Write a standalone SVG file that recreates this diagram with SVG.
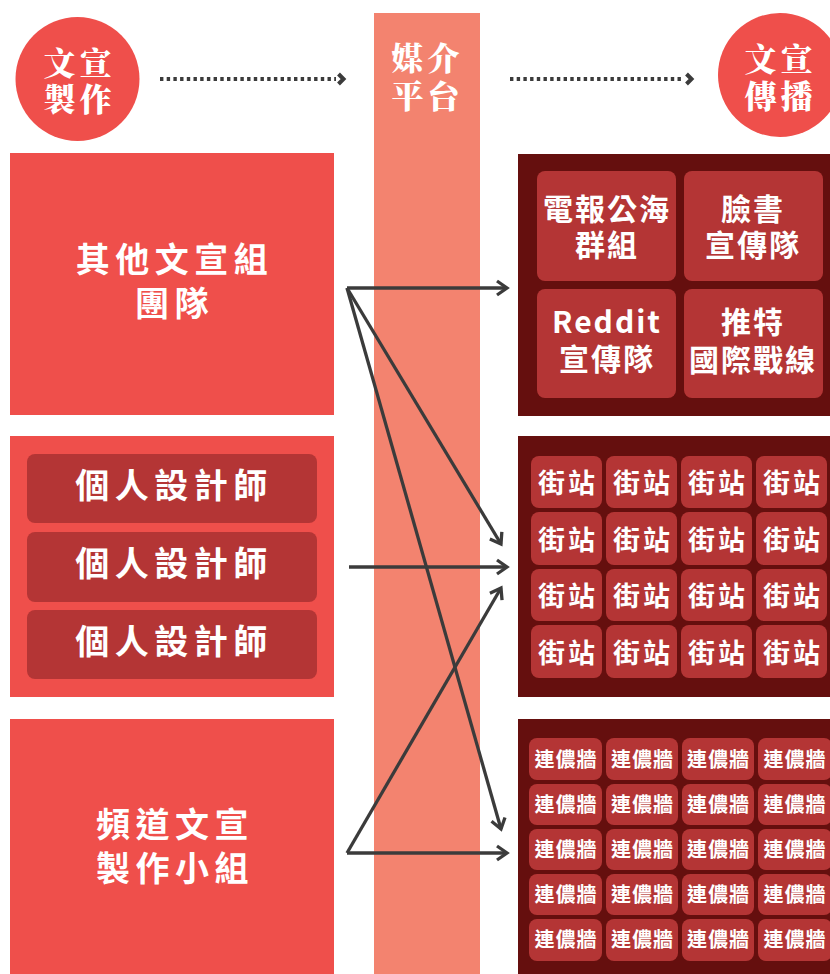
<svg xmlns="http://www.w3.org/2000/svg" width="830" height="974" viewBox="0 0 830 974">
<style>
.t{font-family:"Noto Sans CJK TC","Noto Sans CJK SC",sans-serif;font-weight:700;fill:#fff;text-anchor:middle}
.h{font-family:"Noto Serif CJK TC","Noto Sans CJK TC",serif;font-weight:900;fill:#fff;text-anchor:middle;font-size:32px;letter-spacing:4px}
.big{font-size:34px;letter-spacing:5.5px}
.mid{font-size:30px;letter-spacing:2px}
.st{font-size:27px;letter-spacing:3px}
.lw{font-size:20px;letter-spacing:1px}
.red{fill:#ef4f4b}
.dark{fill:#650f0e}
.cell{fill:#b43535}
.conn{stroke:#3b3b3b;stroke-width:3.3;fill:none}
.dot{stroke:#3b3b3b;stroke-width:4;fill:none;stroke-dasharray:3.4 3.3}
.chev{stroke:#3b3b3b;stroke-width:4;fill:none}
</style>
<defs>
<marker id="ah" markerUnits="userSpaceOnUse" markerWidth="24" markerHeight="24" refX="13" refY="12" orient="auto">
<path d="M3,5 L13,12 L3,19" fill="none" stroke="#3b3b3b" stroke-width="3.3"/>
</marker>
</defs>

<rect x="374" y="13" width="106" height="961" fill="#f3836f"/>

<g id="hdr-left">
<circle cx="77.5" cy="79" r="62" class="red"/>
<text class="h" x="79.5" y="75">文宣</text>
<text class="h" x="79.5" y="111">製作</text>
</g>
<g id="hdr-mid">
<text class="h" x="427.5" y="70">媒介</text>
<text class="h" x="427.5" y="108">平台</text>
</g>
<g id="hdr-right">
<circle cx="780" cy="75" r="62" class="red"/>
<text class="h" x="780.5" y="71">文宣</text>
<text class="h" x="780.5" y="108">傳播</text>
</g>
<g id="hdr-arrows">
<line class="dot" x1="160" y1="79" x2="336" y2="79"/>
<polyline class="chev" points="338.5,74 343.5,79 338.5,84"/>
<line class="dot" x1="510" y1="79" x2="684" y2="79"/>
<polyline class="chev" points="686.5,74 691.5,79 686.5,84"/>
</g>

<g id="src-others">
<rect x="10" y="153" width="324" height="262" class="red"/>
<text class="t big" x="174.5" y="272">其他文宣組</text>
<text class="t big" x="174.5" y="316">團隊</text>
</g>
<g id="src-designers">
<rect x="10" y="436" width="324" height="261" class="red"/>
<rect x="27" y="454" width="290" height="69" rx="8" class="cell"/>
<rect x="27" y="532" width="290" height="70" rx="8" class="cell"/>
<rect x="27" y="610" width="290" height="69" rx="8" class="cell"/>
<text class="t big" x="174" y="498">個人設計師</text>
<text class="t big" x="174" y="576">個人設計師</text>
<text class="t big" x="174" y="654">個人設計師</text>
</g>
<g id="src-channel">
<rect x="10" y="719" width="324" height="255" class="red"/>
<text class="t big" x="175" y="837">頻道文宣</text>
<text class="t big" x="175" y="881">製作小組</text>
</g>

<g id="dst-groups">
<rect x="518" y="154" width="312" height="262" class="dark"/>
<rect x="537" y="171" width="139" height="110" rx="8" class="cell"/>
<rect x="684" y="171" width="139" height="110" rx="8" class="cell"/>
<rect x="537" y="289" width="139" height="109" rx="8" class="cell"/>
<rect x="684" y="289" width="139" height="109" rx="8" class="cell"/>
<text class="t mid" x="607" y="220">電報公海</text>
<text class="t mid" x="607" y="256">群組</text>
<text class="t mid" x="753" y="220">臉書</text>
<text class="t mid" x="753" y="256">宣傳隊</text>
<text class="t mid" x="607" y="333">Reddit</text>
<text class="t mid" x="607" y="370">宣傳隊</text>
<text class="t mid" x="753" y="333">推特</text>
<text class="t mid" x="753" y="371">國際戰線</text>
</g>

<g id="dst-stations">
<rect x="518" y="436" width="312" height="261" class="dark"/>
<g class="cell">
<rect x="531" y="456" width="71" height="52" rx="8"/><rect x="606" y="456" width="71" height="52" rx="8"/><rect x="681" y="456" width="71" height="52" rx="8"/><rect x="756" y="456" width="71" height="52" rx="8"/>
<rect x="531" y="512" width="71" height="53" rx="8"/><rect x="606" y="512" width="71" height="53" rx="8"/><rect x="681" y="512" width="71" height="53" rx="8"/><rect x="756" y="512" width="71" height="53" rx="8"/>
<rect x="531" y="569" width="71" height="52" rx="8"/><rect x="606" y="569" width="71" height="52" rx="8"/><rect x="681" y="569" width="71" height="52" rx="8"/><rect x="756" y="569" width="71" height="52" rx="8"/>
<rect x="531" y="625" width="71" height="53" rx="8"/><rect x="606" y="625" width="71" height="53" rx="8"/><rect x="681" y="625" width="71" height="53" rx="8"/><rect x="756" y="625" width="71" height="53" rx="8"/>
</g>
<g class="t st">
<text x="568" y="493">街站</text><text x="643" y="493">街站</text><text x="718" y="493">街站</text><text x="793" y="493">街站</text>
<text x="568" y="550">街站</text><text x="643" y="550">街站</text><text x="718" y="550">街站</text><text x="793" y="550">街站</text>
<text x="568" y="606">街站</text><text x="643" y="606">街站</text><text x="718" y="606">街站</text><text x="793" y="606">街站</text>
<text x="568" y="663">街站</text><text x="643" y="663">街站</text><text x="718" y="663">街站</text><text x="793" y="663">街站</text>
</g>
</g>

<g id="dst-walls">
<rect x="518" y="719" width="312" height="255" class="dark"/>
<g class="cell">
<rect x="529" y="738" width="73" height="42" rx="8"/><rect x="606" y="738" width="72" height="42" rx="8"/><rect x="682" y="738" width="72" height="42" rx="8"/><rect x="758" y="738" width="74" height="42" rx="8"/>
<rect x="529" y="784" width="73" height="41" rx="8"/><rect x="606" y="784" width="72" height="41" rx="8"/><rect x="682" y="784" width="72" height="41" rx="8"/><rect x="758" y="784" width="74" height="41" rx="8"/>
<rect x="529" y="829" width="73" height="41" rx="8"/><rect x="606" y="829" width="72" height="41" rx="8"/><rect x="682" y="829" width="72" height="41" rx="8"/><rect x="758" y="829" width="74" height="41" rx="8"/>
<rect x="529" y="874" width="73" height="41" rx="8"/><rect x="606" y="874" width="72" height="41" rx="8"/><rect x="682" y="874" width="72" height="41" rx="8"/><rect x="758" y="874" width="74" height="41" rx="8"/>
<rect x="529" y="919" width="73" height="42" rx="8"/><rect x="606" y="919" width="72" height="42" rx="8"/><rect x="682" y="919" width="72" height="42" rx="8"/><rect x="758" y="919" width="74" height="42" rx="8"/>
</g>
<g class="t lw">
<text x="566" y="767">連儂牆</text><text x="642.5" y="767">連儂牆</text><text x="718.5" y="767">連儂牆</text><text x="795" y="767">連儂牆</text>
<text x="566" y="812">連儂牆</text><text x="642.5" y="812">連儂牆</text><text x="718.5" y="812">連儂牆</text><text x="795" y="812">連儂牆</text>
<text x="566" y="857">連儂牆</text><text x="642.5" y="857">連儂牆</text><text x="718.5" y="857">連儂牆</text><text x="795" y="857">連儂牆</text>
<text x="566" y="902">連儂牆</text><text x="642.5" y="902">連儂牆</text><text x="718.5" y="902">連儂牆</text><text x="795" y="902">連儂牆</text>
<text x="566" y="947">連儂牆</text><text x="642.5" y="947">連儂牆</text><text x="718.5" y="947">連儂牆</text><text x="795" y="947">連儂牆</text>
</g>
</g>

<g id="connectors">
<line class="conn" x1="347" y1="288" x2="507" y2="288" marker-end="url(#ah)"/>
<line class="conn" x1="347" y1="288" x2="501" y2="544" marker-end="url(#ah)"/>
<line class="conn" x1="347" y1="288" x2="501" y2="829" marker-end="url(#ah)"/>
<line class="conn" x1="349" y1="567" x2="507" y2="567" marker-end="url(#ah)"/>
<line class="conn" x1="347" y1="853" x2="507" y2="853" marker-end="url(#ah)"/>
<line class="conn" x1="347" y1="853" x2="501" y2="588" marker-end="url(#ah)"/>
</g>
</svg>
